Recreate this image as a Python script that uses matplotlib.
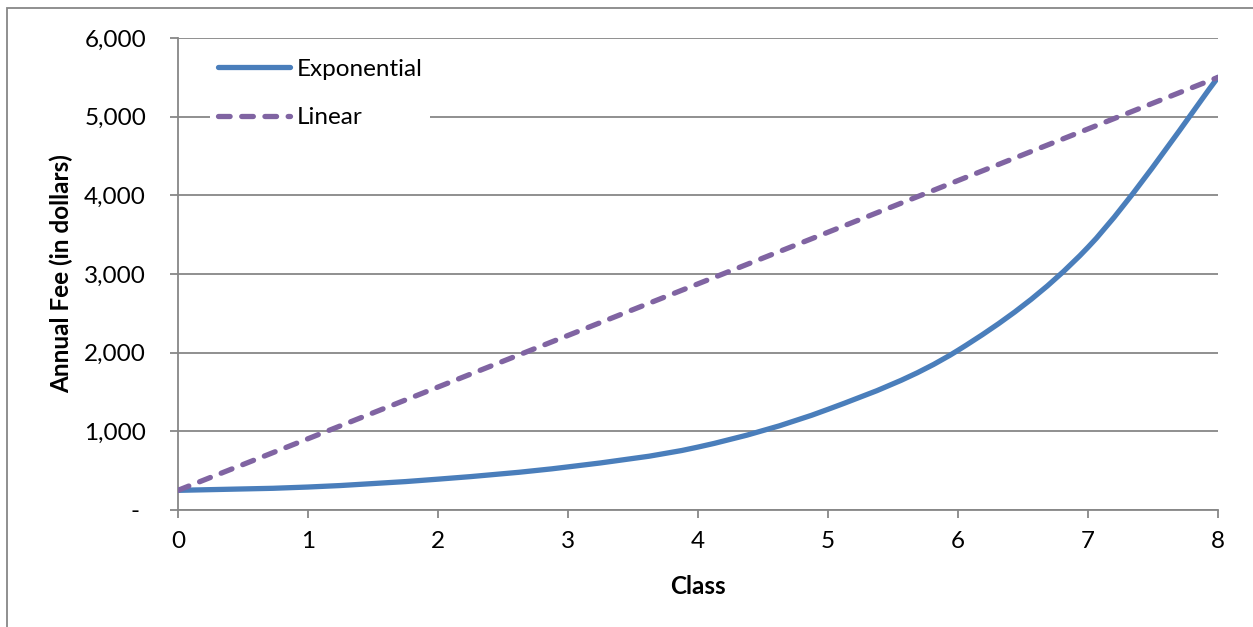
import numpy as np
import matplotlib.pyplot as plt
from matplotlib.path import Path
from matplotlib.patches import PathPatch, Rectangle
from matplotlib.ticker import FuncFormatter

# Data
classes = [0, 1, 2, 3, 4, 5, 6, 7, 8]
exponential_fee = [250, 292, 392, 548, 800, 1280, 2030, 3340, 5500]
linear_fee = [250, 906, 1563, 2219, 2875, 3531, 4188, 4844, 5500]

blue = '#4A7EBB'
purple = '#8064A2'
grid_gray = '#878787'

plt.rcParams['font.family'] = ['Lato', 'DejaVu Sans']

fig = plt.figure(figsize=(12.53, 6.27), dpi=100)
ax = fig.add_axes([178 / 1253, 117 / 627, 1040 / 1253, 472 / 627])

# Excel-style smoothed line: Catmull-Rom segments as cubic Beziers
def smooth_path(xs, ys):
    pts = np.column_stack([xs, ys]).astype(float)
    n = len(pts)
    verts = [pts[0]]
    codes = [Path.MOVETO]
    for i in range(n - 1):
        p0 = pts[i - 1] if i > 0 else pts[i]
        p1 = pts[i]
        p2 = pts[i + 1]
        p3 = pts[i + 2] if i + 2 < n else pts[i + 1]
        c1 = p1 + (p2 - p0) / 6
        c2 = p2 - (p3 - p1) / 6
        verts += [c1, c2, p2]
        codes += [Path.CURVE4] * 3
    return Path(verts, codes)

ax.add_patch(PathPatch(smooth_path(classes, exponential_fee), fill=False,
                       edgecolor=blue, lw=3.8, capstyle='round', zorder=3))
ax.plot([], [], color=blue, lw=3.8, solid_capstyle='round', label='Exponential')
ax.plot(classes, linear_fee, color=purple, lw=3.8, linestyle=(0, (2.2, 2.2)),
        dash_capstyle='round', label='Linear', zorder=4)

ax.set_xlim(0, 8)
ax.set_ylim(0, 6000)
ax.set_xticks(range(0, 9))
ax.set_yticks(range(0, 6001, 1000))
ax.yaxis.set_major_formatter(FuncFormatter(lambda v, p: '- ' if v == 0 else f'{int(v):,}'))

ax.grid(axis='y', color=grid_gray, lw=1.3)
ax.set_axisbelow(True)
for s in ['top', 'right']:
    ax.spines[s].set_visible(False)
for s in ['left', 'bottom']:
    ax.spines[s].set_color(grid_gray)
    ax.spines[s].set_linewidth(1.3)
ax.tick_params(axis='y', length=6, width=1.3, color=grid_gray, pad=17, labelsize=17.5)
ax.tick_params(axis='x', length=6, width=1.3, color=grid_gray, pad=9, labelsize=17.5)

ax.set_xlabel('Class', fontsize=17.5, fontweight='bold', labelpad=17)
ax.set_ylabel('Annual Fee (in dollars)', fontsize=17.5, fontweight='bold', labelpad=8)

leg = ax.legend(loc='upper left', bbox_to_anchor=(0.031, 0.972), fontsize=17.5,
                handlelength=3.0, handletextpad=0.25, labelspacing=1.15,
                frameon=True, fancybox=False, borderpad=0.3, borderaxespad=0)
leg.get_frame().set_facecolor('white')
leg.get_frame().set_edgecolor('none')
leg.get_frame().set_alpha(1)

# chart area border, cut off at right and bottom like the reference
fig.patches.append(Rectangle((7 / 1253, -0.2), 1.2, 1.2 - 8 / 627,
                             transform=fig.transFigure, fill=False,
                             edgecolor=grid_gray, lw=1.3))

fig.savefig('out.png', dpi=100)
